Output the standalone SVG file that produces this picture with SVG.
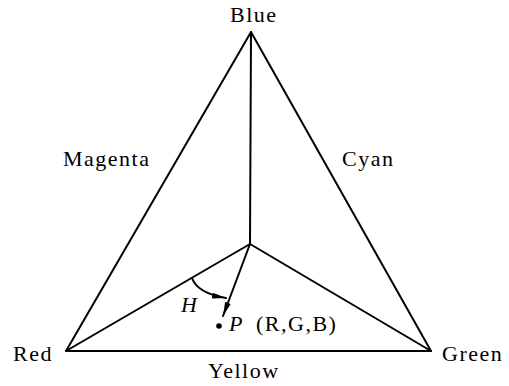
<svg xmlns="http://www.w3.org/2000/svg" width="509" height="386" viewBox="0 0 509 386">
<defs>
<style>
.lbl{font-family:"Liberation Serif","Times New Roman",serif;font-size:22px;letter-spacing:1.5px;fill:#000}
.it{font-style:italic;letter-spacing:0}
.ln{stroke:#000;stroke-width:2;fill:none;stroke-linecap:round;stroke-linejoin:round}
</style>
<marker id="ah" viewBox="0 0 14 6" refX="14" refY="3" markerWidth="14" markerHeight="6" markerUnits="userSpaceOnUse" orient="auto">
<path d="M0,0 L14,3 L0,6 Z" fill="#000"/>
</marker>
</defs>
<rect width="509" height="386" fill="#fff"/>
<g id="connectors">
<path class="ln" d="M251,32 L66,351 L431,351 Z"/>
<path class="ln" d="M251,32 L250,244"/>
<path class="ln" d="M66,351 L250,244 L431,351"/>
<path class="ln" d="M250,244 L223,316" marker-end="url(#ah)"/>
<path class="ln" d="M192,278 Q197,293 226,298" marker-end="url(#ah)"/>
</g>
<g id="node-blue"><text class="lbl" x="230" y="22">Blue</text></g>
<g id="node-red"><text class="lbl" x="13" y="361">Red</text></g>
<g id="node-green"><text class="lbl" x="442" y="361">Green</text></g>
<g id="label-magenta"><text class="lbl" x="63" y="166">Magenta</text></g>
<g id="label-cyan"><text class="lbl" x="342" y="166">Cyan</text></g>
<g id="label-yellow"><text class="lbl" x="208" y="378">Yellow</text></g>
<g id="node-p">
<circle cx="219" cy="326" r="2.8" fill="#000"/>
<text class="lbl it" x="229" y="331">P</text>
<text class="lbl" x="256" y="331">(R,G,B)</text>
</g>
<g id="label-h"><text class="lbl it" x="181" y="312">H</text></g>
</svg>
